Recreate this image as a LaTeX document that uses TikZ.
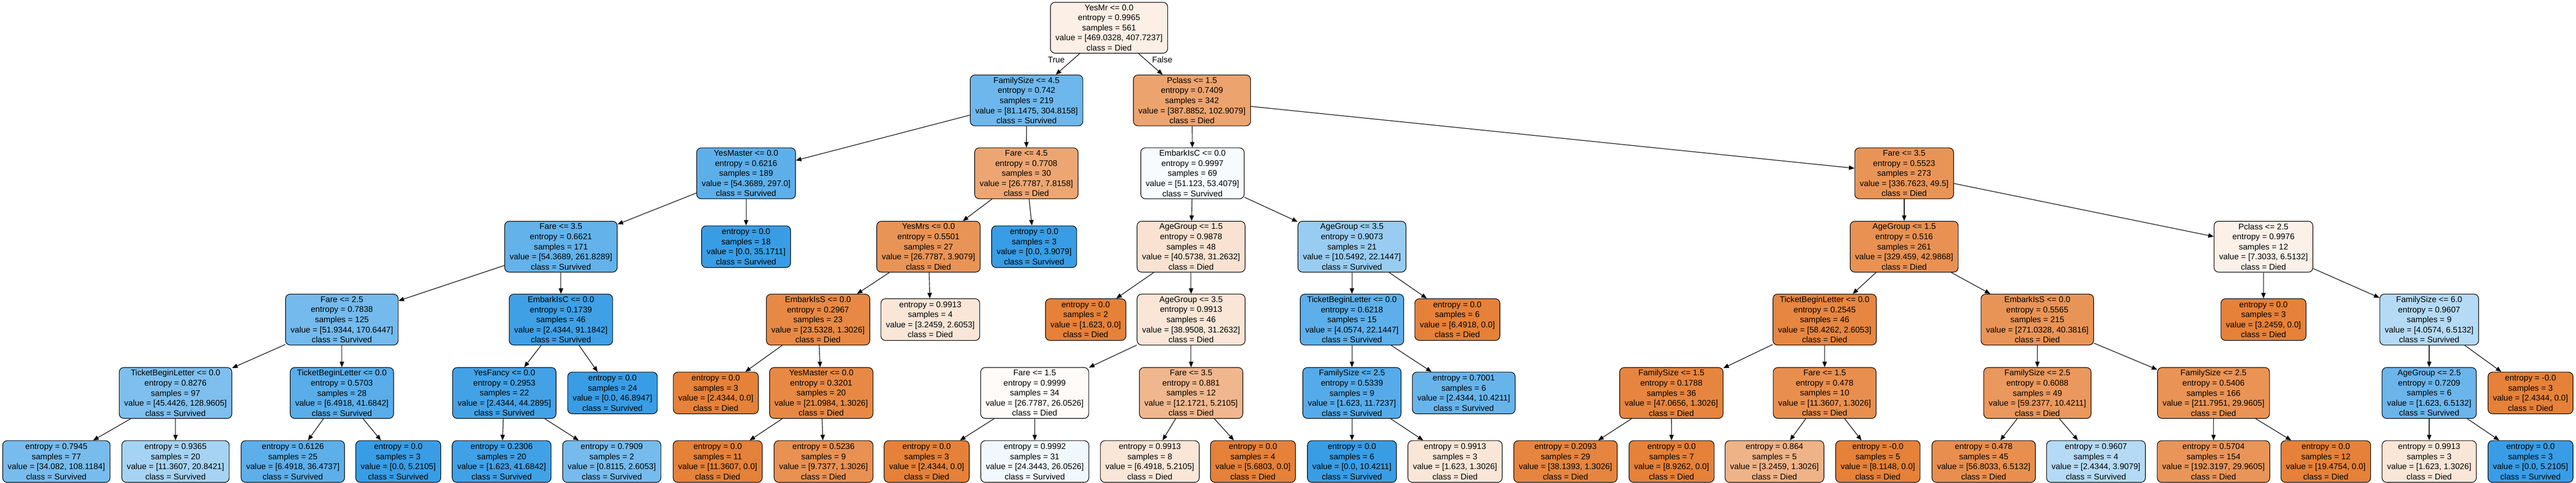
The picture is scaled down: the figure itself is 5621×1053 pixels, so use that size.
\documentclass[tikz,border=0pt]{standalone}
\usepackage{fontspec}
\setmainfont{Liberation Sans}
\usetikzlibrary{arrows.meta}

\definecolor{cmuerto}{RGB}{229,129,57}
\definecolor{cvivo}{RGB}{57,157,229}

\newcommand{\corte}[5]{#1\\entropy = #2\\samples = #3\\value = [#4]\\class = #5}
\newcommand{\hoja}[4]{entropy = #1\\samples = #2\\value = [#3]\\class = #4}

\tikzset{
	nodo/.style={draw, line width=.65pt, rounded corners=5pt, align=center, inner xsep=5.5pt, inner ysep=0pt, font=\fontsize{9}{11}\selectfont, minimum height=55.5pt},
	nhoja/.style={nodo, minimum height=45.5pt},
	muerto/.style={fill=cmuerto!#1!white},
	vivo/.style={fill=cvivo!#1!white},
	flecha/.style={-{Triangle[length=6pt,width=4.8pt]}, line width=.65pt},
	etiq/.style={font=\fontsize{9}{11}\selectfont}
}

\begin{document}
\begin{tikzpicture}[x=.5pt, y=-.5pt]
		% Fondo
		\fill[white] (0,0) rectangle (5621,1053);
		\useasboundingbox (0,0) rectangle (5621,1053);
		
		% Nivel 0
		\node[nodo, muerto=13] (r) at (2420,60.5) {\corte{YesMr <= 0.0}{0.9965}{561}{469.0328, 407.7237}{Died}};
		
		% Nivel 1
		\node[nodo, vivo=73] (fs45) at (2240,219) {\corte{FamilySize <= 4.5}{0.742}{219}{81.1475, 304.8158}{Survived}};
		\node[nodo, muerto=73] (pc15) at (2601,219) {\corte{Pclass <= 1.5}{0.7409}{342}{387.8852, 102.9079}{Died}};
		
		% Nivel 2
		\node[nodo, vivo=82] (ym189) at (1628,378) {\corte{YesMaster <= 0.0}{0.6216}{189}{54.3689, 297.0}{Survived}};
		\node[nodo, muerto=71] (f45) at (2239.5,378) {\corte{Fare <= 4.5}{0.7708}{30}{26.7787, 7.8158}{Died}};
		\node[nodo, vivo=4] (eic69) at (2602,378) {\corte{EmbarkIsC <= 0.0}{0.9997}{69}{51.123, 53.4079}{Survived}};
		\node[nodo, muerto=85] (f35r) at (4155,378) {\corte{Fare <= 3.5}{0.5523}{273}{336.7623, 49.5}{Died}};
		
		% Nivel 3
		\node[nodo, vivo=79] (f35l) at (1224,538) {\corte{Fare <= 3.5}{0.6621}{171}{54.3689, 261.8289}{Survived}};
		\node[nhoja, vivo=100] (l18) at (1628,538) {\hoja{0.0}{18}{0.0, 35.1711}{Survived}};
		\node[nodo, muerto=85] (ymrs) at (2026,538) {\corte{YesMrs <= 0.0}{0.5501}{27}{26.7787, 3.9079}{Died}};
		\node[nhoja, vivo=100] (l3s) at (2256.6,538) {\hoja{0.0}{3}{0.0, 3.9079}{Survived}};
		\node[nodo, muerto=23] (ag15a) at (2599,538) {\corte{AgeGroup <= 1.5}{0.9878}{48}{40.5738, 31.2632}{Died}};
		\node[nodo, vivo=52] (ag35a) at (2950,538) {\corte{AgeGroup <= 3.5}{0.9073}{21}{10.5492, 22.1447}{Survived}};
		\node[nodo, muerto=87] (ag15b) at (4155,538) {\corte{AgeGroup <= 1.5}{0.516}{261}{329.459, 42.9868}{Died}};
		\node[nodo, muerto=11] (pc25) at (4939,538) {\corte{Pclass <= 2.5}{0.9976}{12}{7.3033, 6.5132}{Died}};
		
		% Nivel 4
		\node[nodo, vivo=70] (f25) at (746,697) {\corte{Fare <= 2.5}{0.7838}{125}{51.9344, 170.6447}{Survived}};
		\node[nodo, vivo=97] (eic46) at (1224,697) {\corte{EmbarkIsC <= 0.0}{0.1739}{46}{2.4344, 91.1842}{Survived}};
		\node[nodo, muerto=94] (eis23) at (1785,697) {\corte{EmbarkIsS <= 0.0}{0.2967}{23}{23.5328, 1.3026}{Died}};
		\node[nhoja, muerto=20] (l4) at (2030,697) {\hoja{0.9913}{4}{3.2459, 2.6053}{Died}};
		\node[nhoja, muerto=100] (l2) at (2369,697) {\hoja{0.0}{2}{1.623, 0.0}{Died}};
		\node[nodo, muerto=20] (ag35b) at (2599,697) {\corte{AgeGroup <= 3.5}{0.9913}{46}{38.9508, 31.2632}{Died}};
		\node[nodo, vivo=82] (tbl15) at (2950,697) {\corte{TicketBeginLetter <= 0.0}{0.6218}{15}{4.0574, 22.1447}{Survived}};
		\node[nhoja, muerto=100] (l6d) at (3180,697) {\hoja{0.0}{6}{6.4918, 0.0}{Died}};
		\node[nodo, muerto=96] (tbl46) at (3981.5,697) {\corte{TicketBeginLetter <= 0.0}{0.2545}{46}{58.4262, 2.6053}{Died}};
		\node[nodo, muerto=85] (eis215) at (4445.5,697) {\corte{EmbarkIsS <= 0.0}{0.5565}{215}{271.0328, 40.3816}{Died}};
		\node[nhoja, muerto=100] (l3d) at (4939,697) {\hoja{0.0}{3}{3.2459, 0.0}{Died}};
		\node[nodo, vivo=38] (fs60) at (5300.6,697) {\corte{FamilySize <= 6.0}{0.9607}{9}{4.0574, 6.5132}{Survived}};
		
		% Nivel 5
		\node[nodo, vivo=65] (tbl97) at (383,857) {\corte{TicketBeginLetter <= 0.0}{0.8276}{97}{45.4426, 128.9605}{Survived}};
		\node[nodo, vivo=84] (tbl28) at (746,857) {\corte{TicketBeginLetter <= 0.0}{0.5703}{28}{6.4918, 41.6842}{Survived}};
		\node[nodo, vivo=95] (yf) at (1100.5,857) {\corte{YesFancy <= 0.0}{0.2953}{22}{2.4344, 44.2895}{Survived}};
		\node[nhoja, vivo=100] (l24) at (1336.5,857) {\hoja{0.0}{24}{0.0, 46.8947}{Survived}};
		\node[nhoja, muerto=100] (l3da) at (1562,857) {\hoja{0.0}{3}{2.4344, 0.0}{Died}};
		\node[nodo, muerto=94] (ym20) at (1792,857) {\corte{YesMaster <= 0.0}{0.3201}{20}{21.0984, 1.3026}{Died}};
		\node[nodo, muerto=3] (f15a) at (2257.7,857) {\corte{Fare <= 1.5}{0.9999}{34}{26.7787, 26.0526}{Died}};
		\node[nodo, muerto=57] (f35c) at (2599,857) {\corte{Fare <= 3.5}{0.881}{12}{12.1721, 5.2105}{Died}};
		\node[nodo, vivo=86] (fs25a) at (2950,857) {\corte{FamilySize <= 2.5}{0.5339}{9}{1.623, 11.7237}{Survived}};
		\node[nhoja, vivo=77] (l7001) at (3194,857) {\hoja{0.7001}{6}{2.4344, 10.4211}{Survived}};
		\node[nodo, muerto=97] (fs15) at (3647,857) {\corte{FamilySize <= 1.5}{0.1788}{36}{47.0656, 1.3026}{Died}};
		\node[nodo, muerto=89] (f15b) at (3981.5,857) {\corte{Fare <= 1.5}{0.478}{10}{11.3607, 1.3026}{Died}};
		\node[nodo, muerto=82] (fs25b) at (4445.7,857) {\corte{FamilySize <= 2.5}{0.6088}{49}{59.2377, 10.4211}{Died}};
		\node[nodo, muerto=86] (fs25c) at (4830,857) {\corte{FamilySize <= 2.5}{0.5406}{166}{211.7951, 29.9605}{Died}};
		\node[nodo, vivo=75] (ag25) at (5300.6,857) {\corte{AgeGroup <= 2.5}{0.7209}{6}{1.623, 6.5132}{Survived}};
		\node[nhoja, muerto=100] (lm0) at (5521.7,857) {\hoja{-0.0}{3}{2.4344, 0.0}{Died}};
		
		% Nivel 6 (hojas)
		\node[nhoja, vivo=68] (h77) at (123,1006.5) {\hoja{0.7945}{77}{34.082, 108.1184}{Survived}};
		\node[nhoja, vivo=45] (h20) at (383,1006.5) {\hoja{0.9365}{20}{11.3607, 20.8421}{Survived}};
		\node[nhoja, vivo=82] (h25) at (639,1006.5) {\hoja{0.6126}{25}{6.4918, 36.4737}{Survived}};
		\node[nhoja, vivo=100] (h3) at (869,1006.5) {\hoja{0.0}{3}{0.0, 5.2105}{Survived}};
		\node[nhoja, vivo=96] (h20b) at (1094.6,1006.5) {\hoja{0.2306}{20}{1.623, 41.6842}{Survived}};
		\node[nhoja, vivo=69] (h2) at (1335,1006.5) {\hoja{0.7909}{2}{0.8115, 2.6053}{Survived}};
		\node[nhoja, muerto=100] (h11) at (1566,1006.5) {\hoja{0.0}{11}{11.3607, 0.0}{Died}};
		\node[nhoja, muerto=87] (h9) at (1797,1006.5) {\hoja{0.5236}{9}{9.7377, 1.3026}{Died}};
		\node[nhoja, muerto=100] (h3d) at (2022,1006.5) {\hoja{0.0}{3}{2.4344, 0.0}{Died}};
		\node[nhoja, vivo=7] (h31) at (2258,1006.5) {\hoja{0.9992}{31}{24.3443, 26.0526}{Survived}};
		\node[nhoja, muerto=20] (h8) at (2509,1006.5) {\hoja{0.9913}{8}{6.4918, 5.2105}{Died}};
		\node[nhoja, muerto=100] (h4) at (2734,1006.5) {\hoja{0.0}{4}{5.6803, 0.0}{Died}};
		\node[nhoja, vivo=100] (h6) at (2950,1006.5) {\hoja{0.0}{6}{0.0, 10.4211}{Survived}};
		\node[nhoja, muerto=20] (h3b) at (3175,1006.5) {\hoja{0.9913}{3}{1.623, 1.3026}{Died}};
		\node[nhoja, muerto=97] (h29) at (3416,1006.5) {\hoja{0.2093}{29}{38.1393, 1.3026}{Died}};
		\node[nhoja, muerto=100] (h7) at (3647.5,1006.5) {\hoja{0.0}{7}{8.9262, 0.0}{Died}};
		\node[nhoja, muerto=60] (h5a) at (3872,1006.5) {\hoja{0.864}{5}{3.2459, 1.3026}{Died}};
		\node[nhoja, muerto=100] (h5b) at (4097.6,1006.5) {\hoja{-0.0}{5}{8.1148, 0.0}{Died}};
		\node[nhoja, muerto=89] (h45) at (4328.5,1006.5) {\hoja{0.478}{45}{56.8033, 6.5132}{Died}};
		\node[nhoja, vivo=38] (h4s) at (4573.5,1006.5) {\hoja{0.9607}{4}{2.4344, 3.9079}{Survived}};
		\node[nhoja, muerto=84] (h154) at (4830,1006.5) {\hoja{0.5704}{154}{192.3197, 29.9605}{Died}};
		\node[nhoja, muerto=100] (h12) at (5075,1006.5) {\hoja{0.0}{12}{19.4754, 0.0}{Died}};
		\node[nhoja, muerto=20] (h3c) at (5300.6,1006.5) {\hoja{0.9913}{3}{1.623, 1.3026}{Died}};
		\node[nhoja, vivo=100] (h3s) at (5521.7,1006.5) {\hoja{0.0}{3}{0.0, 5.2105}{Survived}};
		
		% Aristas
		\foreach \a/\b in {r/fs45, r/pc15,
			fs45/ym189, fs45/f45, pc15/eic69, pc15/f35r,
			ym189/f35l, ym189/l18, f45/ymrs, f45/l3s, eic69/ag15a, eic69/ag35a, f35r/ag15b, f35r/pc25,
			f35l/f25, f35l/eic46, ymrs/eis23, ymrs/l4, ag15a/l2, ag15a/ag35b, ag35a/tbl15, ag35a/l6d,
			ag15b/tbl46, ag15b/eis215, pc25/l3d, pc25/fs60,
			f25/tbl97, f25/tbl28, eic46/yf, eic46/l24, eis23/l3da, eis23/ym20, ag35b/f15a, ag35b/f35c,
			tbl15/fs25a, tbl15/l7001, tbl46/fs15, tbl46/f15b, eis215/fs25b, eis215/fs25c, fs60/ag25, fs60/lm0,
			tbl97/h77, tbl97/h20, tbl28/h25, tbl28/h3, yf/h20b, yf/h2, ym20/h11, ym20/h9,
			f15a/h3d, f15a/h31, f35c/h8, f35c/h4, fs25a/h6, fs25a/h3b, fs15/h29, fs15/h7,
			f15b/h5a, f15b/h5b, fs25b/h45, fs25b/h4s, fs25c/h154, fs25c/h12, ag25/h3c, ag25/h3s}{
			\draw[flecha] (\a) -- (\b);}
		
		% Etiquetas
		\node[etiq] (verdad) at (2305,130) {True};
		\node[etiq] (falso) at (2536,130) {False};
	\end{tikzpicture}
\end{document}
